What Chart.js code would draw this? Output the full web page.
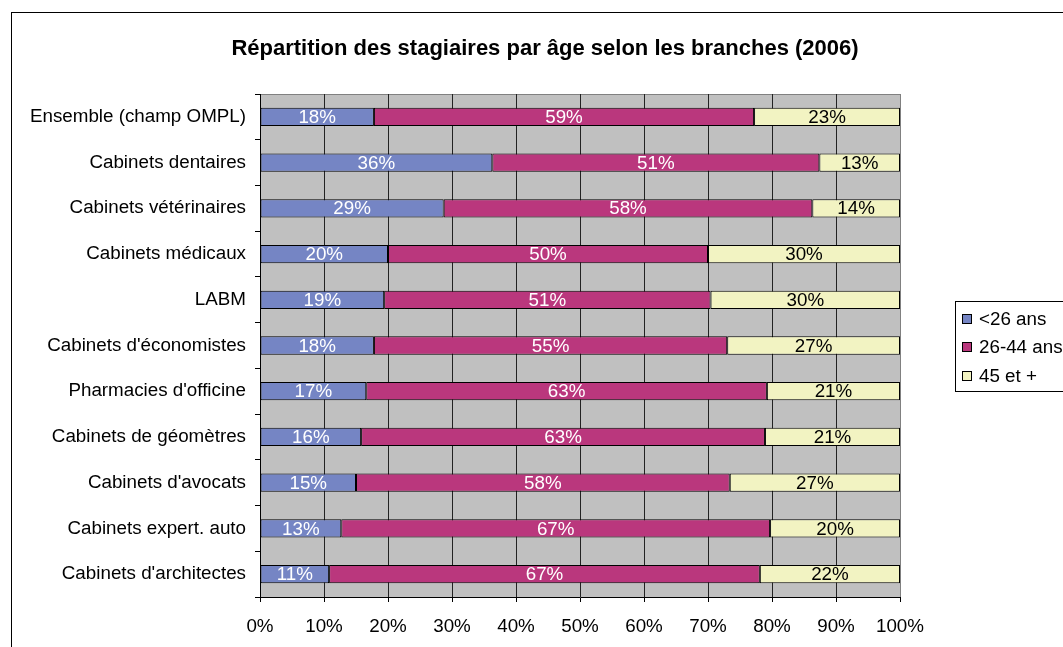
<!DOCTYPE html>
<html>
<head>
<meta charset="utf-8">
<script src="https://cdn.jsdelivr.net/npm/chart.js@4/dist/chart.umd.min.js"></script>
<style>
  body { margin: 0; background: #fff; }
  canvas { display: block; }
</style>
</head>
<body>
<canvas id="myChart" width="1063" height="647"></canvas>
<script>
// branches (de haut en bas)
const categories = [
  "Ensemble (champ OMPL)",
  "Cabinets dentaires",
  "Cabinets vétérinaires",
  "Cabinets médicaux",
  "LABM",
  "Cabinets d'économistes",
  "Pharmacies d'officine",
  "Cabinets de géomètres",
  "Cabinets d'avocats",
  "Cabinets expert. auto",
  "Cabinets d'architectes",
];
const seriesNames = ["<26 ans", "26-44 ans", "45 et +"];
const moins26 = [17.8, 36.3, 28.7, 20.0, 19.4, 17.8, 16.6, 15.8, 15.0, 12.7, 10.8];
const de26a44 = [59.4, 51.1, 57.6, 50.0, 51.0, 55.2, 62.6, 63.1, 58.4, 67.0, 67.3];
const plus45 = [22.8, 12.6, 13.7, 30.0, 29.6, 27.0, 20.8, 21.1, 26.6, 20.3, 21.9];
const xTickLabels = ["0%", "10%", "20%", "30%", "40%", "50%", "60%", "70%", "80%", "90%", "100%"];

const chartTitle = "Répartition des stagiaires par âge selon les branches (2006)";
const FONT = "'Liberation Sans', Arial, sans-serif";
const TXT = 18.8;

Chart.defaults.font.family = FONT;
Chart.defaults.font.size = TXT;
Chart.defaults.color = "#000";

//fond gris + cadre + titre + légende + étiquettes
const excelPlugin = {
  id: "excelLook",
  beforeDraw(chart) {
    const { ctx, chartArea: a } = chart;
    ctx.save();
    ctx.fillStyle = "#fff";
    ctx.fillRect(0, 0, chart.width, chart.height);
    ctx.strokeStyle = "#000";
    ctx.lineWidth = 1;
    ctx.strokeRect(11.5, 12.5, 1200, 800);
    ctx.fillStyle = "#C0C0C0";
    ctx.fillRect(a.left, a.top, a.right - a.left, a.bottom - a.top);
    ctx.strokeStyle = "#808080";
    ctx.beginPath();
    ctx.moveTo(a.left, a.top + 0.5);
    ctx.lineTo(a.right, a.top + 0.5);
    ctx.stroke();
    ctx.restore();
  },
  afterDatasetsDraw(chart) {
    const ctx = chart.ctx;
    ctx.save();
    ctx.font = TXT + "px " + FONT;
    ctx.textAlign = "center";
    ctx.textBaseline = "middle";
    chart.data.datasets.forEach((ds, i) => {
      const meta = chart.getDatasetMeta(i);
      ctx.fillStyle = i === 2 ? "#000" : "#fff";
      meta.data.forEach((bar, j) => {
        const cx = (bar.x + bar.base) / 2;
        ctx.fillText(Math.round(ds.data[j]) + "%", cx, bar.y + 1);
      });
    });
    ctx.restore();
  },
  afterDraw(chart) {
    const ctx = chart.ctx;
    ctx.save();
    //titre
    ctx.font = "bold 22px " + FONT;
    ctx.textAlign = "center";
    ctx.textBaseline = "middle";
    ctx.fillStyle = "#000";
    ctx.fillText(chartTitle, 545, 49);

    //légende
    ctx.strokeStyle = "#000";
    ctx.lineWidth = 1;
    ctx.fillStyle = "#fff";
    ctx.fillRect(955.5, 301.5, 130, 90);
    ctx.strokeRect(955.5, 301.5, 130, 90);
    ctx.font = TXT + "px " + FONT;
    ctx.textAlign = "left";
    chart.data.datasets.forEach((ds, i) => {
      const y = 318.5 + i * 28.8;
      ctx.fillStyle = ds.backgroundColor;
      ctx.fillRect(962.5, Math.round(y) - 4.5, 9, 9);
      ctx.strokeRect(962.5, Math.round(y) - 4.5, 9, 9);
      ctx.fillStyle = "#000";
      ctx.fillText(ds.label, 979, y + 1);
    });
    ctx.restore();
  },
};

const config = {
  type: "bar",
  data: {
    labels: categories,
    datasets: [
      { label: seriesNames[0], data: moins26, backgroundColor: "#7585C4" },
      { label: seriesNames[1], data: de26a44, backgroundColor: "#BA377D" },
      { label: seriesNames[2], data: plus45, backgroundColor: "#F2F3C2" },
    ].map((d) => ({
      ...d,
      borderColor: "#000",
      borderWidth: 1,
      borderSkipped: false,
      barPercentage: 0.4,
      categoryPercentage: 1,
    })),
  },
  options: {
    responsive: false,
    animation: false,
    indexAxis: "y",
    layout: { padding: { left: 0, top: 94, right: 163, bottom: 0 } },
    plugins: {
      legend: { display: false },
      title: { display: false },
      tooltip: { enabled: false },
    },
    scales: {
      x: {
        stacked: true,
        min: 0,
        max: 100,
        afterFit: (s) => { s.height = 50; },
        ticks: {
          stepSize: 10,
          padding: 14,
          callback: (v) => xTickLabels[Math.round(v / 10)],
        },
        grid: {
          color: (c) => (c.tick && c.tick.value === 100 ? "#808080" : "#222"),
          tickColor: "#000",
          tickLength: 5,
        },
        border: { color: "#000" },
      },
      y: {
        stacked: true,
        afterFit: (s) => { s.width = 260; },
        ticks: { padding: 9 },
        grid: {
          offset: true,
          drawOnChartArea: false,
          color: "#000",
          tickLength: 5,
        },
        border: { color: "#000" },
      },
    },
  },
  plugins: [excelPlugin],
};

const ctx = document.getElementById("myChart").getContext("2d");
new Chart(ctx, config);
</script>
</body>
</html>
